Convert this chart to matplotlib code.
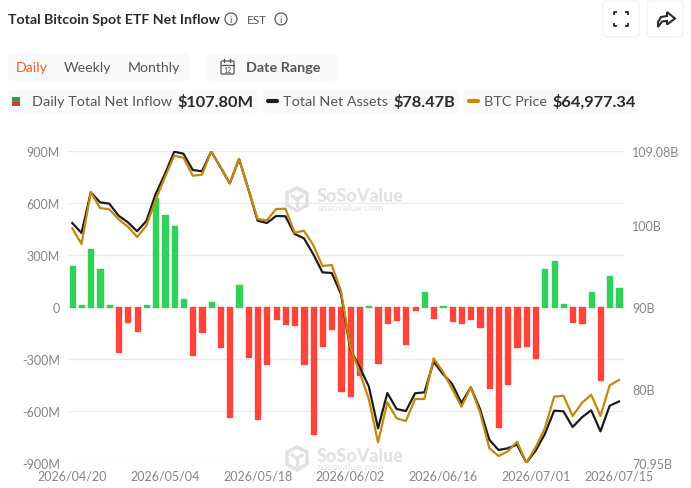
import matplotlib
matplotlib.use("Agg")
import matplotlib.pyplot as plt
from matplotlib.patches import Circle, FancyBboxPatch, Polygon, Rectangle

plt.rcParams['font.family'] = ['Lato', 'DejaVu Sans']

# x axis: trading days
dates = ["2026/04/20", "2026/05/04", "2026/05/18", "2026/06/02", "2026/06/16", "2026/07/01", "2026/07/15"]
date_idx = [0, 10, 20, 30, 40, 50, 59]

# daily net inflow, $M
net_inflow = [234, 12, 334, 219, 12, -261, -88, -136, 12, 626,
              528, 465, 44, -276, -144, 27, -232, -634, 127, -290,
              -645, -330, -71, -100, -104, -330, -731, -227, -125, -482,
              -516, -395, 3, -324, -90, -77, -211, -17, 84, -63,
              6, -83, -90, -67, -113, -468, -693, -443, -230, -223,
              -294, 219, 265, 19, -84, -94, 88, -424, 179, 107.8]

# total net assets, $B
net_assets = [100.28, 99.06, 104.03, 102.81, 102.64, 101.17, 100.37, 99.27, 100.53, 103.82,
              106.27, 108.99, 108.75, 106.76, 106.60, 109.04, 107.09, 105.13, 108.10, 104.44,
              100.56, 100.28, 101.14, 101.10, 98.94, 98.41, 96.49, 94.25, 94.17, 91.60,
              84.88, 82.68, 80.32, 75.19, 79.50, 77.55, 77.30, 79.47, 79.59, 83.33,
              81.83, 80.60, 78.28, 80.20, 77.55, 73.80, 72.54, 72.75, 73.19, 70.99,
              72.45, 74.49, 77.34, 77.27, 75.35, 76.53, 77.39, 74.82, 77.95, 78.47]

# btc price, $
btc_price = [75898, 74768, 78490, 77360, 77266, 76546, 76014, 75272, 76086, 77958,
             79570, 81126, 80982, 79686, 79758, 81442, 80290, 79138, 80888, 78728,
             76568, 76474, 77288, 77310, 75582, 75726, 74696, 73184, 73256, 71384,
             67330, 65574, 63608, 60490, 63370, 62218, 62024, 63608, 63608, 66538,
             65574, 64328, 63054, 64450, 62650, 60080, 59504, 59842, 60534, 59022,
             60130, 61498, 63774, 63846, 62384, 63320, 63918, 62384, 64594, 64977.34]

left_ticks = [-900, -600, -300, 0, 300, 600, 900]
left_labels = ["-900M", "-600M", "-300M", "0", "300M", "600M", "900M"]
right_ticks = [70.95, 80, 90, 100, 109.08]
right_labels = ["70.95B", "80B", "90B", "100B", "109.08B"]

GREEN = "#30d158"
RED = "#ff453a"
BLACK = "#1c1c1c"
GOLD = "#c8860a"
GRID = "#ececee"
TICK = "#86868a"
TEXT = "#55555a"
DARK = "#2b2b2e"
PANEL = "#fafafa"
WM = "#e2e2e4"

W, H = 691, 489
fig = plt.figure(figsize=(W / 100, H / 100), dpi=100)

# chart axes, placed in pixels
ax = fig.add_axes([68 / W, 1 - 464 / H, 556 / W, 312 / H])
idx = list(range(len(net_inflow)))
colors = [GREEN if v >= 0 else RED for v in net_inflow]
ax.bar(idx, net_inflow, width=0.56, color=colors, edgecolor=colors, linewidth=1, joinstyle='round', zorder=2)
ax.set_xlim(-0.46, 59.54)
ax.set_ylim(-900, 900)
ax.set_yticks(left_ticks, left_labels)
ax.set_xticks(date_idx, dates)
ax.grid(axis='y', color=GRID, linewidth=1)
ax.set_axisbelow(True)
ax.tick_params(length=0, colors=TICK, labelsize=9)
ax.tick_params(axis='y', pad=6)
ax.tick_params(axis='x', pad=5)
for s in ax.spines.values():
    s.set_visible(False)

ax2 = ax.twinx()
ax2.plot(idx, net_assets, color=BLACK, linewidth=1.6, zorder=3)
ax2.set_ylim(70.95, 109.08)
ax2.set_yticks(right_ticks, right_labels)
ax2.tick_params(length=0, colors=TICK, labelsize=9, pad=5.8)
for s in ax2.spines.values():
    s.set_visible(False)

ax3 = ax.twinx()
ax3.plot(idx, btc_price, color=GOLD, linewidth=1.6, zorder=4)
ax3.set_ylim(59000, 81464)
ax3.axis('off')

# overlay for the page furniture, in image pixels
ov = fig.add_axes([0, 0, 1, 1])
ov.set_xlim(0, W)
ov.set_ylim(H, 0)
ov.axis('off')
ov.patch.set_alpha(0)


def panel(x0, y0, x1, y1, face=PANEL, edge='none'):
    ov.add_patch(FancyBboxPatch((x0 + 3, y0 + 3), x1 - x0 - 6, y1 - y0 - 6, boxstyle="round,pad=3,rounding_size=4",
                                facecolor=face, edgecolor=edge, linewidth=0.8))


def info(x, y):
    ov.add_patch(Circle((x, y), 6, facecolor='none', edgecolor=TEXT, linewidth=0.9))
    ov.text(x, y + 0.3, "i", fontsize=7, color=TEXT, ha='center', va='center')


def watermark(x, y):
    # cube logo, then the name
    ov.add_patch(Polygon([(x, y - 11), (x + 10, y - 6), (x + 10, y + 6), (x, y + 12), (x - 10, y + 6), (x - 10, y - 6)],
                         closed=True, facecolor='none', edgecolor=WM, linewidth=2.6, zorder=5))
    ov.plot([x - 5, x, x + 5], [y - 3, y + 0.5, y - 3], color=WM, linewidth=2.4, zorder=5)
    ov.plot([x, x], [y + 0.5, y + 7], color=WM, linewidth=2.4, zorder=5)
    ov.text(x + 19.5, y - 3, "SoSoValue", fontsize=13, fontweight='black', color=WM, va='center', zorder=5)
    ov.text(x + 20.5, y + 8.5, "sosovalue.com", fontsize=7.5, color=WM, va='center', zorder=5)


# title row
ov.text(8, 20.5, "Total Bitcoin Spot ETF Net Inflow", fontsize=10.2, fontweight='bold', color=DARK, va='center')
info(231, 20)
ov.text(247, 20.5, "EST", fontsize=8.5, color=TEXT, va='center')
info(281, 20)

# top right buttons
panel(603, 2, 639, 38, face='white', edge='#f0f0f0')
panel(647, 2, 683, 38, face='white', edge='#f0f0f0')
cx, cy, r, t = 621, 20, 7, 3
for sx in (-1, 1):
    for sy in (-1, 1):
        ov.plot([cx + sx * r, cx + sx * r, cx + sx * (r - t)], [cy + sy * (r - t), cy + sy * r, cy + sy * r],
                color=DARK, linewidth=1.3, solid_capstyle='butt')
ov.add_patch(Polygon([(667, 13), (675, 19.5), (667, 25.5), (667, 22), (662, 22.5), (658, 28), (658, 23), (661, 18), (667, 17)],
                     closed=True, facecolor='none', edgecolor=DARK, linewidth=1.5))

# period tabs
panel(8, 54, 190, 82)
ov.text(16, 68.5, "Daily", fontsize=10.2, color='#ff5a2e', va='center')
ov.text(64, 68.5, "Weekly", fontsize=10.2, color=TEXT, va='center')
ov.text(128, 68.5, "Monthly", fontsize=10.2, color=TEXT, va='center')
panel(206, 54, 337, 82)
ov.add_patch(FancyBboxPatch((221, 62), 13, 13, boxstyle="round,pad=0,rounding_size=1", facecolor='none', edgecolor=TEXT, linewidth=0.9))
ov.plot([221, 234], [65.5, 65.5], color=TEXT, linewidth=0.9)
ov.plot([224.5, 224.5], [60, 63], color=TEXT, linewidth=0.9)
ov.plot([230.5, 230.5], [60, 63], color=TEXT, linewidth=0.9)
ov.text(227.5, 70.5, "12", fontsize=5, color=TEXT, ha='center', va='center')
ov.text(246, 68.5, "Date Range", fontsize=10.4, fontweight='bold', color=TEXT, va='center')

# legend row
panel(8, 90, 258, 114)
panel(262, 90, 459, 114)
panel(463, 90, 640, 114)
ov.add_patch(Rectangle((12, 98), 8, 4.5, facecolor='#2e9e55', edgecolor='none'))
ov.add_patch(Rectangle((12, 102.5), 8, 4.5, facecolor='#d93a2b', edgecolor='none'))
ov.text(32, 102.5, "Daily Total Net Inflow", fontsize=10.4, color=TEXT, va='center')
ov.text(177, 102.5, "$107.80M", fontsize=11.8, fontweight='bold', color=DARK, va='center')
ov.plot([268, 277], [102, 102], color=BLACK, linewidth=3, solid_capstyle='round')
ov.text(283, 102.5, "Total Net Assets", fontsize=10.4, color=TEXT, va='center')
ov.text(393, 102.5, "$78.47B", fontsize=11.8, fontweight='bold', color=DARK, va='center')
ov.plot([469, 478], [102, 102], color=GOLD, linewidth=3, solid_capstyle='round')
ov.text(484, 102.5, "BTC Price", fontsize=10.4, color=TEXT, va='center')
ov.text(552, 102.5, "$64,977.34", fontsize=11.8, fontweight='bold', color=DARK, va='center')

watermark(297, 200)
watermark(297, 459)

fig.savefig("out.png", dpi=100)
